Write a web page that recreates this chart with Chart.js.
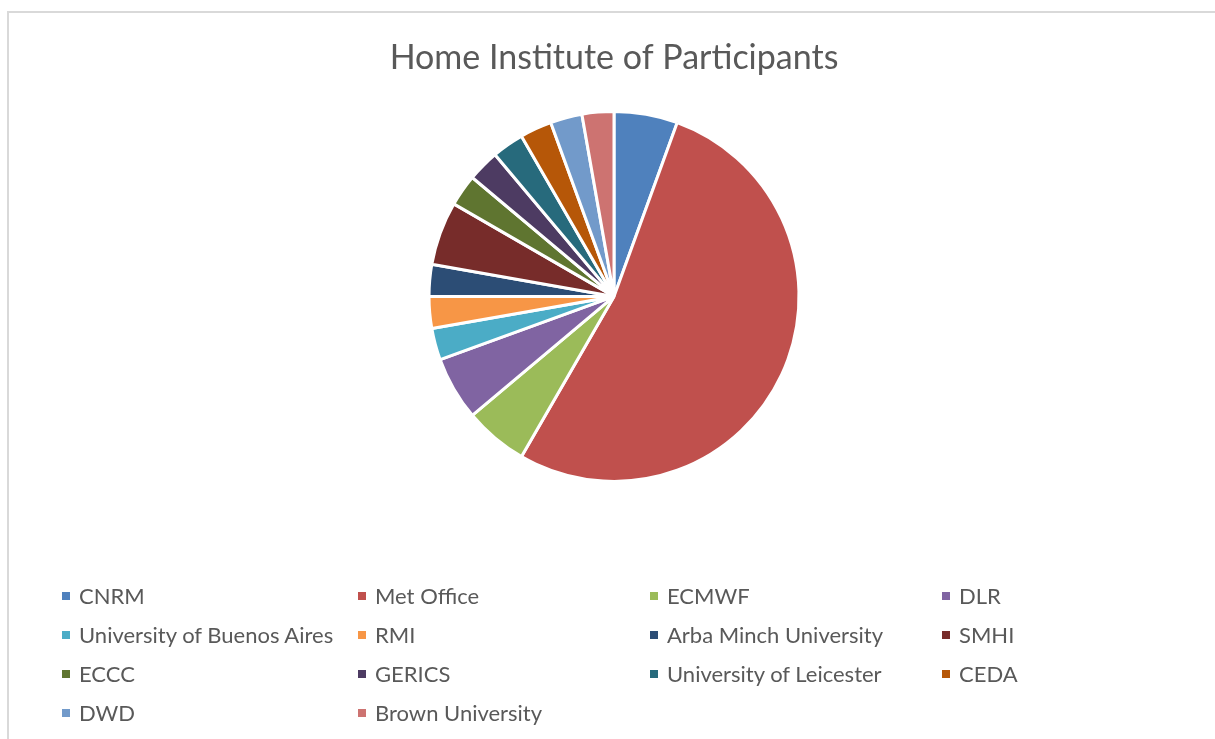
<!DOCTYPE html>
<html>
<head>
<meta charset="utf-8">
<script src="https://cdn.jsdelivr.net/npm/chart.js@4/dist/chart.umd.min.js"></script>
<style>
  html, body { margin: 0; padding: 0; background: #fff; }
  #wrap { position: relative; width: 1215px; height: 739px; overflow: hidden; background: #fff; }
  #frame { position: absolute; left: 7px; top: 11px; width: 1300px; height: 800px;
           border-top: 2px solid #d9d9d9; border-left: 2px solid #d9d9d9; box-sizing: border-box; }
  #c { position: absolute; left: 0; top: 0; }
  #legend { position: absolute; left: 0; top: 0; width: 1215px; height: 739px; pointer-events: none;
            font-family: Lato, "Open Sans", sans-serif; font-size: 22px; color: #595959; }
  .item { position: absolute; height: 30px; line-height: 30px; white-space: nowrap; }
  .sw { position: absolute; left: 0; top: 11px; width: 8px; height: 8px; }
  .tx { position: absolute; left: 17px; top: 0; }
</style>
</head>
<body>
<div id="wrap">
  <div id="frame"></div>
  <canvas id="c" width="1215" height="739"></canvas>
  <div id="legend"></div>
</div>
<script>
const titleText = "Home Institute of Participants";
const institutes = ["CNRM", "Met Office", "ECMWF", "DLR", "University of Buenos Aires", "RMI",
  "Arba Minch University", "SMHI", "ECCC", "GERICS", "University of Leicester", "CEDA",
  "DWD", "Brown University"];
const participants = [2, 19, 2, 2, 1, 1, 1, 2, 1, 1, 1, 1, 1, 1];
const sliceColors = ["#4F81BD", "#C0504D", "#9BBB59", "#8064A2", "#4BACC6", "#F79646",
  "#2C4D75", "#772C2A", "#5F7530", "#4D3B62", "#276A7C", "#B65708", "#729ACA", "#CD7371"];

const chart = new Chart(document.getElementById("c"), {
  type: "pie",
  data: {
    labels: institutes,
    datasets: [{
      data: participants,
      backgroundColor: sliceColors,
      borderColor: "#ffffff",
      borderWidth: 3,
      hoverOffset: 0
    }]
  },
  options: {
    responsive: false,
    animation: false,
    events: [],
    radius: 185,
    layout: { padding: { left: 13, right: 0, top: 0, bottom: 235 } },
    plugins: {
      legend: { display: false },
      tooltip: { enabled: false },
      title: {
        display: true,
        text: titleText,
        color: "#595959",
        font: { family: "Lato, 'Open Sans', sans-serif", size: 34, weight: "normal", lineHeight: 1.2 },
        padding: { top: 38, bottom: 10 }
      }
    }
  }
});

// HTML legend in a 4-column grid, built from the chart's data
const legendEl = document.getElementById("legend");
const colX = [62, 358, 650, 942];
const rowY = [596, 635, 674, 713];
chart.data.labels.forEach((lab, i) => {
  const col = i % 4, row = Math.floor(i / 4);
  const it = document.createElement("div");
  it.className = "item";
  it.style.left = colX[col] + "px";
  it.style.top = (rowY[row] - 15) + "px";
  const sw = document.createElement("div");
  sw.className = "sw";
  sw.style.background = chart.data.datasets[0].backgroundColor[i];
  const tx = document.createElement("span");
  tx.className = "tx";
  tx.textContent = lab;
  it.appendChild(sw); it.appendChild(tx);
  legendEl.appendChild(it);
});
</script>
</body>
</html>
